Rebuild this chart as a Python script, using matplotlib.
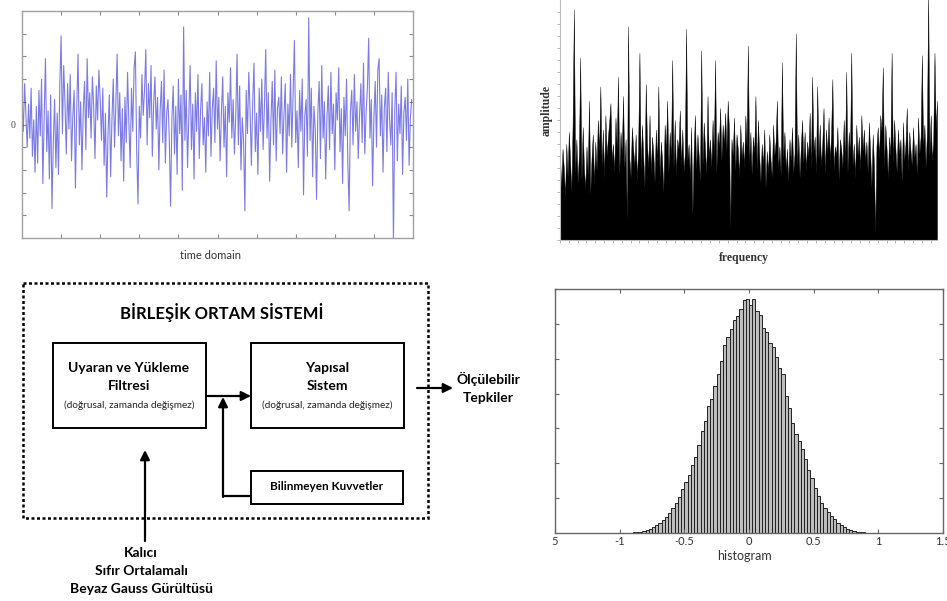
import matplotlib.pyplot as plt
import numpy as np
from matplotlib.patches import Rectangle

W, H = 947, 601

# time domain noise, tick units (-5..5)
time_signal = [
    1.2, -0.3, 1.8, 0.4, -1.0, 0.9, -0.6, 1.6, -1.4, 0.2, -2.1, 0.8, -1.7, 1.5, -0.5, 2.0, -2.6, 0.3, 2.9, -1.2,
    0.6, -2.4, 1.3, -3.7, -0.8, 1.1, -1.9, 0.5, -2.2, 1.7, 3.9, -0.4, 2.6, 0.9, -1.3, 1.8, -0.2, 2.2, -1.6, 0.4,
    1.5, -2.8, 0.7, 3.1, -0.9, 1.0, -2.0, 0.6, 1.9, -1.1, 2.9, 0.3, 1.4, -0.6, 2.1, 0.8, -1.5, 1.7, 0.2, 2.4,
    1.1, -0.7, 1.6, -1.8, 0.5, -3.2, -0.4, 1.3, -2.3, 0.2, 2.0, -1.0, 0.9, 3.1, -0.5, 1.4, -1.6, 0.7, -2.5, 1.2,
    -0.8, 2.3, 0.1, -1.9, 1.6, -0.3, 2.5, 3.2, -1.2, -3.5, 0.8, -0.6, 2.2, 0.4, 1.5, 3.3, -0.9, 1.8, 0.3, 2.6,
    -1.4, 0.9, 2.1, -0.2, 1.2, -2.0, 0.6, 1.9, -0.8, 2.4, -1.7, 0.5, 1.1, -0.6, -3.6, 0.2, 1.7, -1.3, 0.8, -2.2,
    2.0, -0.4, 1.3, -2.9, 4.3, -0.7, 1.5, -1.9, 0.4, 2.6, -1.1, 0.9, -2.4, 1.4, -0.3, 2.2, -1.5, 0.6, 1.8, -0.9,
    0.3, -2.1, 1.0, -0.5, 2.3, -1.4, 0.7, 1.6, -0.8, 2.8, -0.2, 1.2, -1.6, 0.5, 2.1, -1.0, 0.8, -2.3, 1.4, 0.1,
    2.5, -0.6, 1.1, -1.3, 0.4, 3.1, -0.9, 1.7, -2.0, 0.3, -0.7, -3.8, 1.5, -0.4, 2.3, 0.6, -1.8, 1.0, 2.7, -1.2,
    0.5, -2.2, 1.6, -0.3, 2.0, -1.1, 0.8, 3.3, -0.6, 1.4, -2.5, 0.2, 1.9, -0.9, 2.4, -1.6, 0.7, 1.2, -0.4, 2.1,
    -1.3, 0.4, 1.8, -2.1, 0.9, -0.5, 2.2, -1.0, 1.3, 3.7, -0.8, 0.6, -1.9, 1.5, -0.3, 2.0, -3.1, 0.4, 1.1, -1.4,
    4.7, -0.7, 1.6, -2.3, 0.8, -0.2, -3.3, 0.5, 1.9, -1.5, 2.6, -0.6, 1.0, -2.4, 0.3, 1.7, -1.1, 2.3, -0.4, 0.9,
    -2.0, 1.4, 0.2, 2.5, -1.2, 0.7, -2.6, 1.2, -0.5, 2.0, -1.7, -3.8, 0.6, 1.5, -0.9, 2.2, -0.3, 1.0, -1.5, 0.4,
    1.8, -0.8, 2.7, -1.3, 0.5, 1.6, 3.8, -0.6, 1.1, -2.7, 0.3, 1.9, -1.0, 2.4, 2.9, -0.5, 1.3, -2.1, 0.7, 1.6,
    -1.2, 2.3, 0.2, -0.9, 1.4, -5.2, 0.6, 2.3, -1.6, 0.9, -0.4, 1.7, -2.2, 0.5, 1.2, -0.7, 2.0, -1.8, 0.3, 1.1,
]

# amplitude spectrum, percent of axis height
spectrum_amp = [
    35, 22, 38, 30, 18, 40, 26, 45, 33, 20, 48, 96, 28, 42, 24, 36, 76, 25, 47, 30,
    21, 39, 27, 58, 19, 34, 44, 23, 41, 29, 50, 37, 64, 31, 46, 26, 52, 35, 43, 49,
    57, 33, 40, 28, 51, 38, 68, 27, 45, 36, 60, 30, 42, 8, 89, 34, 26, 47, 38, 31,
    44, 25, 39, 78, 29, 48, 35, 22, 65, 40, 30, 52, 27, 43, 36, 24, 46, 32, 64, 26,
    41, 33, 20, 48, 37, 58, 28, 45, 35, 75, 30, 50, 27, 42, 38, 54, 31, 46, 29, 36,
    88, 33, 40, 26, 47, 10, 37, 52, 29, 44, 35, 24, 79, 31, 49, 38, 27, 60, 34, 42,
    30, 50, 36, 75, 28, 45, 39, 55, 33, 48, 40, 53, 37, 58, 46, 5, 42, 35, 51, 29,
    44, 38, 26, 48, 34, 41, 30, 52, 39, 81, 32, 45, 27, 43, 36, 60, 29, 50, 35, 24,
    40, 31, 46, 22, 37, 28, 44, 33, 26, 48, 35, 41, 58, 30, 39, 27, 74, 34, 45, 29,
    38, 24, 42, 33, 47, 28, 36, 86, 31, 44, 26, 39, 50, 32, 45, 29, 41, 35, 53, 30,
    68, 37, 43, 28, 64, 34, 48, 31, 40, 55, 27, 46, 36, 51, 33, 44, 67, 29, 39, 35,
    47, 25, 42, 38, 30, 50, 33, 70, 28, 45, 36, 78, 31, 40, 26, 48, 35, 43, 29, 52,
    37, 46, 33, 41, 28, 49, 36, 22, 44, 31, 3, 39, 47, 34, 52, 45, 72, 30, 48, 38,
    26, 43, 35, 78, 32, 50, 38, 28, 46, 36, 42, 24, 49, 33, 40, 55, 29, 45, 37, 31,
    47, 34, 40, 27, 51, 36, 43, 77, 39, 48, 30, 45, 102, 35, 52, 33, 41, 78, 46, 58,
]

# histogram bar heights, 80 bins of 0.025 from -1 to 1 (tick units)
hist_counts = [
    0.0, 0.0, 0.005, 0.01, 0.02, 0.03, 0.04, 0.06, 0.08, 0.11,
    0.17, 0.22, 0.29, 0.36, 0.46, 0.58, 0.71, 0.87, 1.03, 1.25,
    1.46, 1.67, 1.95, 2.17, 2.52, 2.93, 3.22, 3.63, 3.84, 4.22,
    4.55, 4.93, 5.38, 5.63, 5.86, 6.12, 6.22, 6.43, 6.68, 6.70,
    6.55, 6.70, 6.36, 6.25, 5.87, 5.77, 5.44, 5.33, 5.05, 4.72,
    4.55, 3.92, 3.59, 3.17, 2.84, 2.65, 2.40, 2.11, 1.82, 1.58,
    1.30, 1.06, 0.87, 0.72, 0.60, 0.50, 0.40, 0.30, 0.24, 0.18,
    0.12, 0.08, 0.06, 0.04, 0.03, 0.02, 0.01, 0.01, 0.005, 0.0,
]
hist_bin_start = -1.0
hist_bin_width = 0.025
hist_ticks = [-1.5, -1, -0.5, 0, 0.5, 1, 1.5]
hist_tick_labels = ["5", "-1", "-0.5", "0", "0.5", "1", "1.5"]

diagram_title = "BİRLEŞİK ORTAM SİSTEMİ"
filter_lines = ["Uyaran ve Yükleme", "Filtresi"]
system_lines = ["Yapısal", "Sistem"]
box_note = "(doğrusal, zamanda değişmez)"
unknown_forces = "Bilinmeyen Kuvvetler"
noise_lines = ["Kalıcı", "Sıfır Ortalamalı", "Beyaz Gauss Gürültüsü"]
output_lines = ["Ölçülebilir", "Tepkiler"]

SANS = "Lato"
SERIF = "Liberation Serif"


def axes_rect(left, top, right, bottom):
    return [left / W, 1 - bottom / H, (right - left) / W, (bottom - top) / H]


def draw_diagram(ax):
    ax.set_xlim(0, W)
    ax.set_ylim(H, 0)
    ax.axis("off")

    ax.add_patch(Rectangle((23, 283), 405, 235, fill=False, lw=1.8,
                           ls=(0, (1.2, 1.0)), edgecolor="black"))
    ax.text(222, 313, diagram_title, ha="center", va="center",
            fontsize=12, fontweight="bold", family=SANS)

    for x0, lines in [(53, filter_lines), (251, system_lines)]:
        ax.add_patch(Rectangle((x0, 343), 153, 85, fill=False, lw=1.4, edgecolor="black"))
        cx = x0 + 76
        ax.text(cx, 368, lines[0], ha="center", va="center", fontsize=10,
                fontweight="bold", family=SANS)
        ax.text(cx, 386, lines[1], ha="center", va="center", fontsize=10,
                fontweight="bold", family=SANS)
        ax.text(cx, 405, box_note, ha="center", va="center", fontsize=7.2,
                family=SANS, color="#222222")

    ax.add_patch(Rectangle((251, 471), 152, 33, fill=False, lw=1.4, edgecolor="black"))
    ax.text(327, 487, unknown_forces, ha="center", va="center", fontsize=8.5,
            fontweight="bold", family=SANS)

    arrow = dict(arrowstyle="-|>", color="black", lw=1.6, mutation_scale=14,
                 shrinkA=0, shrinkB=0)
    ax.annotate("", xy=(251, 396), xytext=(206, 396), arrowprops=arrow)
    ax.plot([251, 223], [496, 496], color="black", lw=1.6, solid_capstyle="butt")
    ax.annotate("", xy=(223, 397), xytext=(223, 497), arrowprops=arrow)
    ax.annotate("", xy=(145, 450), xytext=(145, 541), arrowprops=arrow)
    ax.annotate("", xy=(453, 388), xytext=(417, 388), arrowprops=arrow)

    for y, line in zip([553, 571, 589], noise_lines):
        ax.text(141, y, line, ha="center", va="center", fontsize=10,
                fontweight="bold", family=SANS)
    for y, line in zip([379, 398], output_lines):
        ax.text(488, y, line, ha="center", va="center", fontsize=10,
                fontweight="bold", family=SANS)


def draw_time(ax):
    x = np.arange(len(time_signal))
    ax.plot(x, time_signal, color="#3535d5", lw=0.8, alpha=0.65)
    ax.set_xlim(0, len(time_signal))
    ax.set_ylim(-5, 5)
    ax.set_xticks(np.arange(30, 300, 30))
    ax.set_xticklabels([])
    ax.set_yticks(np.arange(-4, 5))
    ax.set_yticklabels(["0" if v == 0 else "" for v in range(-4, 5)],
                       family=SERIF, fontsize=7, color="#444444")
    ax.tick_params(direction="in", length=3, color="#888888", top=True, right=True, pad=5)
    for spine in ax.spines.values():
        spine.set_color("#a0a0a0")
        spine.set_linewidth(1.0)


def draw_spectrum(ax):
    x = np.arange(len(spectrum_amp))
    ax.fill_between(x, 0, spectrum_amp, color="black", linewidth=0.3)
    ax.set_xlim(0, len(spectrum_amp) - 1)
    ax.set_ylim(0, 100)
    ax.set_xticks(np.arange(0, 300, 7))
    ax.set_xticklabels([])
    ax.set_yticks(np.arange(0, 100, 5))
    ax.set_yticklabels([])
    ax.tick_params(direction="out", length=2, color="#aaaaaa", width=0.6)
    ax.spines["top"].set_visible(False)
    ax.spines["right"].set_visible(False)
    ax.spines["left"].set_color("#bbbbbb")
    ax.spines["bottom"].set_color("#bbbbbb")


def draw_histogram(ax):
    lefts = hist_bin_start + hist_bin_width * np.arange(len(hist_counts))
    ax.bar(lefts, hist_counts, width=hist_bin_width, align="edge",
           color="#bdbdbd", edgecolor="#222222", linewidth=0.7)
    ax.set_xlim(-1.5, 1.5)
    ax.set_ylim(0, 7)
    ax.set_xticks(hist_ticks)
    ax.set_xticklabels(hist_tick_labels, family=SANS, fontsize=8, color="#333333")
    ax.set_yticks(range(1, 7))
    ax.set_yticklabels([])
    ax.tick_params(direction="in", length=3, color="#666666", top=True, right=True, pad=2)
    for spine in ax.spines.values():
        spine.set_color("#666666")
        spine.set_linewidth(1.0)


def main():
    fig = plt.figure(figsize=(W / 100, H / 100), dpi=100)

    ax_d = fig.add_axes([0, 0, 1, 1])
    draw_diagram(ax_d)

    ax_t = fig.add_axes(axes_rect(22, 11, 413, 238))
    draw_time(ax_t)
    fig.text(210 / W, 1 - 255 / H, "time domain", ha="center", va="center",
             fontsize=8, family=SANS, color="#333333")

    ax_f = fig.add_axes(axes_rect(560, 0, 937, 240))
    draw_spectrum(ax_f)
    fig.text(547 / W, 1 - 110 / H, "amplitude", ha="center", va="center", rotation=90,
             fontsize=8.5, family=SERIF, fontweight="bold", color="#333333")
    fig.text(744 / W, 1 - 258 / H, "frequency", ha="center", va="center",
             fontsize=8.5, family=SERIF, fontweight="bold", color="#333333")

    ax_h = fig.add_axes(axes_rect(555, 289, 943, 533))
    draw_histogram(ax_h)
    fig.text(744 / W, 1 - 556 / H, "histogram", ha="center", va="center",
             fontsize=9, family=SANS, color="#333333")

    fig.savefig("out.png", dpi=100)
    plt.close(fig)


if __name__ == "__main__":
    main()
